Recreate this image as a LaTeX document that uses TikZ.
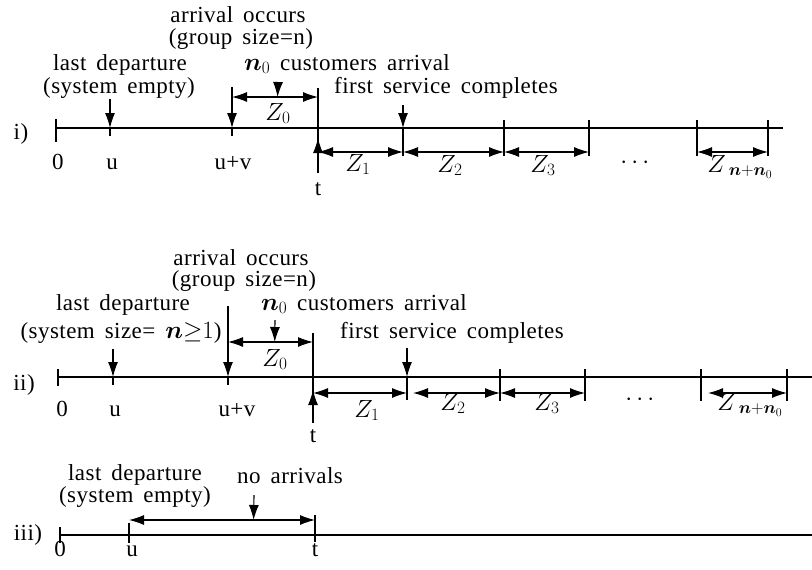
\documentclass[tikz,border=0pt]{standalone}
\usepackage{fontspec}
\setmainfont{Liberation Serif}[LetterSpace=2,WordSpace=1.6]
\usepackage{amsmath}
\usepackage{tikz}
\usetikzlibrary{positioning,arrows.meta,calc}

\begin{document}
\begin{tikzpicture}[x=1pt,y=-1pt,
        axisline/.style={line width=1.1pt},
        tickline/.style={line width=1.1pt},
        dblarrow/.style={line width=1.1pt,{Latex[length=15pt,width=10pt]}-{Latex[length=15pt,width=10pt]}},
        ptrarrow/.style={line width=1.1pt,-{Latex[length=15pt,width=10pt]}},
        lbl/.style={inner sep=0pt,font=\fontsize{23}{23}\selectfont,text height=16pt,text depth=6pt}]
        \useasboundingbox (0,0) rectangle (812,570);

        % i) time points
        \coordinate (i0) at (56,128);
        \coordinate (iu) at (110,128);
        \coordinate (iuv) at (232,128);
        \coordinate (it) at (318,128);
        \coordinate (is1) at (403,128);
        \coordinate (is2) at (504,128);
        \coordinate (is3) at (589,128);
        \coordinate (is4) at (697,128);
        \coordinate (is5) at (768,128);
        \coordinate (iend) at (783,128);

        % i) labels
        \node[lbl] (i-tag) at (21,134) {i)};
        \node[lbl] (i-arr) at (238,18) {arrival occurs};
        \node[lbl] (i-grp) at (241,39) {(group size=n)};
        \node[lbl] (i-last) at (120,65) {last departure};
        \node[lbl] (i-empty) at (119,88) {(system empty)};
        \node[lbl] (i-cust) at (347,65) {$\boldsymbol{n}_0$ customers arrival};
        \node[lbl] (i-first) at (446,88) {first service completes};
        \node[lbl] (i-z0) at (278,115) {$Z_0$};
        \node[lbl] (i-l0) at (58,164) {0};
        \node[lbl] (i-lu) at (112,164) {u};
        \node[lbl] (i-luv) at (233,164) {u+v};
        \node[lbl] (i-lt) at (318,190) {t};
        \node[lbl] (i-z1) at (358,166) {$Z_1$};
        \node[lbl] (i-z2) at (450,167) {$Z_2$};
        \node[lbl] (i-z3) at (543,167) {$Z_3$};
        \node[lbl] (i-dots) at (637,163) {$\cdots$};
        \node[lbl] (i-zn) at (740,167) {$Z_{\;\boldsymbol{n}+\boldsymbol{n}_0}$};

        % i) axis and ticks
        \draw[axisline] (i0) -- (iend);
        \draw[tickline] ($(i0)+(0,-9)$) -- ($(i0)+(0,14)$);
        \draw[ptrarrow] (i-empty.south -| iu) -- (iu);
        \draw[tickline] (iu) -- ($(iu)+(0,8)$);
        \draw[ptrarrow] ($(iuv)+(0,-41)$) -- (iuv);
        \draw[tickline] (iuv) -- ($(iuv)+(0,8)$);
        \draw[tickline] ($(it)+(0,-40)$) -- ($(it)+(0,45)$);
        \draw[ptrarrow] ($(it)+(0,45)$) -- ($(it)+(0,10)$);
        \draw[ptrarrow] ($(is1)+(0,-23)$) -- (is1);
        \draw[tickline] (is1) -- ($(is1)+(0,28)$);
        \foreach \p in {is2,is3,is4,is5}
            \draw[tickline] ($(\p)+(0,-8)$) -- ($(\p)+(0,28)$);

        % i) intervals
        \draw[dblarrow] ($(iuv)+(0,-31)$) -- ($(it)+(0,-31)$);
        \draw[ptrarrow] ($(i-cust.south -| i-z0)+(0,6)$) -- ($(iuv)!0.53!(it)+(0,-31)$);
        \draw[dblarrow] ($(it)+(0,24)$) -- ($(is1)+(0,24)$);
        \draw[dblarrow] ($(is1)+(0,24)$) -- ($(is2)+(0,24)$);
        \draw[dblarrow] ($(is2)+(0,24)$) -- ($(is3)+(0,24)$);
        \draw[dblarrow] ($(is4)+(0,24)$) -- ($(is5)+(0,24)$);

        % ii) time points
        \coordinate (ii0) at (58,377);
        \coordinate (iiu) at (113,377);
        \coordinate (iiuv) at (228,377);
        \coordinate (iit) at (313,377);
        \coordinate (iis1) at (407,377);
        \coordinate (iis2) at (500,377);
        \coordinate (iis3) at (585,377);
        \coordinate (iis4) at (701,377);
        \coordinate (iis5) at (787,377);
        \coordinate (iiend) at (812,377);

        % ii) labels
        \node[lbl] (ii-tag) at (24,385) {ii)};
        \node[lbl] (ii-arr) at (241,260) {arrival occurs};
        \node[lbl] (ii-grp) at (244,281) {(group size=n)};
        \node[lbl] (ii-last) at (123,305) {last departure};
        \node[lbl] (ii-size) at (121,333) {(system size= $\boldsymbol{n}{\geq}1$)};
        \node[lbl] (ii-cust) at (364,305) {$\boldsymbol{n}_0$ customers arrival};
        \node[lbl] (ii-first) at (452,333) {first service completes};
        \node[lbl] (ii-z0) at (275,361) {$Z_0$};
        \node[lbl] (ii-l0) at (62,411) {0};
        \node[lbl] (ii-lu) at (115,411) {u};
        \node[lbl] (ii-luv) at (237,411) {u+v};
        \node[lbl] (ii-lt) at (313,437) {t};
        \node[lbl] (ii-z1) at (367,412) {$Z_1$};
        \node[lbl] (ii-z2) at (453,405) {$Z_2$};
        \node[lbl] (ii-z3) at (547,405) {$Z_3$};
        \node[lbl] (ii-dots) at (642,400) {$\cdots$};
        \node[lbl] (ii-zn) at (750,405) {$Z_{\;\boldsymbol{n}+\boldsymbol{n}_0}$};

        % ii) axis and ticks
        \draw[axisline] (ii0) -- (iiend);
        \draw[tickline] ($(ii0)+(0,-8)$) -- ($(ii0)+(0,9)$);
        \draw[ptrarrow] ($(iiu)+(0,-28)$) -- (iiu);
        \draw[tickline] (iiu) -- ($(iiu)+(0,8)$);
        \draw[ptrarrow] ($(iiuv)+(0,-71)$) -- (iiuv);
        \draw[tickline] (iiuv) -- ($(iiuv)+(0,8)$);
        \draw[tickline] ($(iit)+(0,-44)$) -- ($(iit)+(0,46)$);
        \draw[ptrarrow] ($(iit)+(0,46)$) -- ($(iit)+(0,13)$);
        \draw[ptrarrow] ($(iis1)+(0,-29)$) -- (iis1);
        \draw[tickline] (iis1) -- ($(iis1)+(0,23)$);
        \foreach \p in {iis2,iis3,iis4,iis5}
            \draw[tickline] ($(\p)+(0,-8)$) -- ($(\p)+(0,24)$);

        % ii) intervals
        \draw[dblarrow] ($(iiuv)+(0,-35)$) -- ($(iit)+(0,-35)$);
        \draw[ptrarrow] ($(ii-cust.south -| ii-z0)+(0,4)$) -- ($(iiuv)!0.55!(iit)+(0,-35)$);
        \draw[dblarrow] ($(iit)+(0,16)$) -- ($(iis1)+(0,16)$);
        \draw[dblarrow, shorten <=6pt] ($(iis1)+(0,16)$) -- ($(iis2)+(0,16)$);
        \draw[dblarrow] ($(iis2)+(0,16)$) -- ($(iis3)+(0,16)$);
        \draw[dblarrow, shorten <=7pt] ($(iis4)+(0,16)$) -- ($(iis5)+(0,16)$);

        % iii) time points
        \coordinate (iii0) at (60,535);
        \coordinate (iiiu) at (129,535);
        \coordinate (iiit) at (315,535);
        \coordinate (iiiend) at (812,535);

        % iii) labels
        \node[lbl, text height=, text depth=, align=center, font=\fontsize{23}{16}\selectfont] (iii-last) at (135,486) {last departure\\(system empty)};
        \node[lbl] (iii-tag) at (28,535) {iii)};
        \node[lbl] (iii-none) at (290,478) {no arrivals};
        \node[lbl] (iii-l0) at (60,551) {0};
        \node[lbl] (iii-lu) at (132,551) {u};
        \node[lbl] (iii-lt) at (315,551) {t};

        % iii) axis and interval
        \draw[axisline] (iii0) -- (iiiend);
        \draw[tickline] ($(iii0)+(0,-8)$) -- ($(iii0)+(0,8)$);
        \draw[tickline] ($(iiiu)+(0,-12)$) -- ($(iiiu)+(0,8)$);
        \draw[tickline] ($(iiit)+(0,-20)$) -- ($(iiit)+(0,7)$);
        \draw[dblarrow] ($(iiiu)+(0,-15)$) -- ($(iiit)+(0,-15)$);
        \draw[ptrarrow] ($(iii-none.south)+(-36,6)$) -- ($(iiiu)!0.67!(iiit)+(0,-15)$);
\end{tikzpicture}
\end{document}
